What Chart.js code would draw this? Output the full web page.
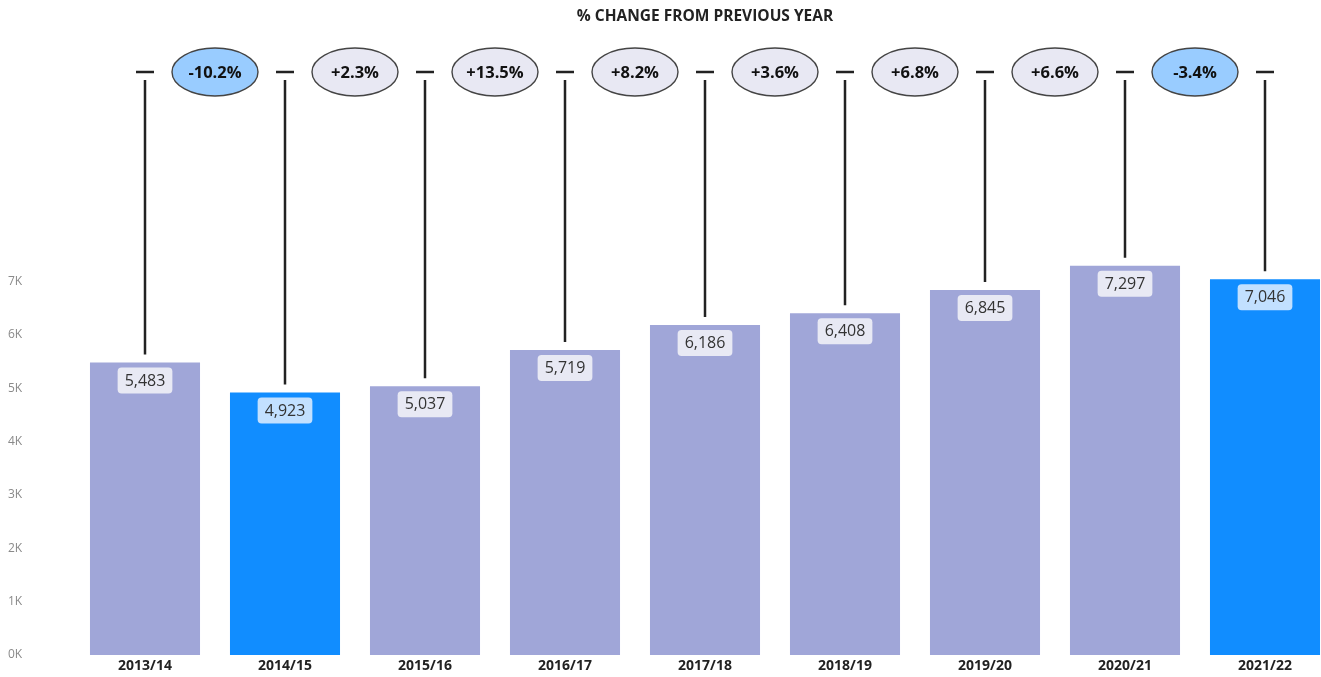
<!DOCTYPE html>
<html>
<head>
<meta charset="utf-8">
<script src="https://cdn.jsdelivr.net/npm/chart.js@4.4.0/dist/chart.umd.min.js"></script>
<style>
html,body{margin:0;padding:0;background:#fff;overflow:hidden}
#wrap{position:relative;width:1335px;height:677px}
</style>
</head>
<body>
<div id="wrap"><canvas id="chart" width="1335" height="677"></canvas></div>
<script>
// data
const years=["2013/14","2014/15","2015/16","2016/17","2017/18","2018/19","2019/20","2020/21","2021/22"];
const values=[5483,4923,5037,5719,6186,6408,6845,7297,7046];
const changes=["-10.2%","+2.3%","+13.5%","+8.2%","+3.6%","+6.8%","+6.6%","-3.4%"];
const yTicks=[0,1000,2000,3000,4000,5000,6000,7000];
const title="% CHANGE FROM PREVIOUS YEAR";

const FONT='"Open Sans", "Noto Sans", sans-serif';

// bar after a fall is drawn blue
const barColors=values.map((v,i)=> i>0 && changes[i-1].startsWith("-") ? "#118DFF" : "#A0A6D8");
const labelFills=barColors.map(c=> c=="#118DFF" ? "#C2E0FF" : "#E8E9F4");

const overlay={
  id:"overlay",
  afterDatasetsDraw(chart){
    const {ctx,chartArea}=chart;
    const bars=chart.getDatasetMeta(0).data;
    ctx.save();

    // title
    ctx.fillStyle="#222";
    ctx.font="bold 15.5px "+FONT;
    ctx.textAlign="center";
    ctx.textBaseline="middle";
    ctx.fillText(title,(chartArea.left+chartArea.right)/2,17);

    // connector lines and dashes
    ctx.strokeStyle="#222";
    ctx.lineWidth=2.5;
    bars.forEach(bar=>{
      ctx.beginPath();
      ctx.moveTo(bar.x,80);
      ctx.lineTo(bar.x,bar.y-8);
      ctx.moveTo(bar.x-9,72);
      ctx.lineTo(bar.x+9,72);
      ctx.stroke();
    });

    // change bubbles
    changes.forEach((c,i)=>{
      const x=(bars[i].x+bars[i+1].x)/2;
      ctx.beginPath();
      ctx.ellipse(x,72,43,24,0,0,Math.PI*2);
      ctx.fillStyle=c.startsWith("-") ? "#99CCFF" : "#E8E8F3";
      ctx.fill();
      ctx.lineWidth=1.4;
      ctx.strokeStyle="#444";
      ctx.stroke();
      ctx.fillStyle="#111";
      ctx.font="bold 16.5px "+FONT;
      ctx.fillText(c,x,73);
    });

    // value labels
    ctx.font="16px "+FONT;
    bars.forEach((bar,i)=>{
      const txt=values[i].toLocaleString("en-US");
      const w=ctx.measureText(txt).width+14, h=26;
      ctx.beginPath();
      ctx.roundRect(bar.x-w/2,bar.y+5,w,h,4);
      ctx.fillStyle=labelFills[i];
      ctx.fill();
      ctx.fillStyle="#333";
      ctx.fillText(txt,bar.x,bar.y+18.5);
    });
    ctx.restore();
  }
};

new Chart(document.getElementById("chart"),{
  type:"bar",
  data:{
    labels:years,
    datasets:[{
      data:values,
      backgroundColor:barColors,
      borderWidth:0,
      categoryPercentage:1,
      barPercentage:0.786
    }]
  },
  options:{
    responsive:false,
    animation:false,
    layout:{padding:{top:255,left:8,right:0,bottom:0}},
    plugins:{legend:{display:false},tooltip:{enabled:false},title:{display:false}},
    scales:{
      x:{
        grid:{display:false,drawTicks:false},
        border:{display:false},
        ticks:{color:"#222",font:{family:FONT,size:14,weight:"bold"},padding:3},
        afterFit(s){s.height=22;}
      },
      y:{
        min:0,max:7500,
        grid:{display:false,drawTicks:false},
        border:{display:false},
        afterBuildTicks(s){s.ticks=yTicks.map(v=>({value:v}));},
        ticks:{
          color:"#8a8a8a",
          crossAlign:"far",
          font:{family:FONT,size:12},
          callback:v=>(v/1000)+"K"
        },
        afterFit(s){s.width=67;}
      }
    }
  },
  plugins:[overlay]
});
</script>
</body>
</html>
